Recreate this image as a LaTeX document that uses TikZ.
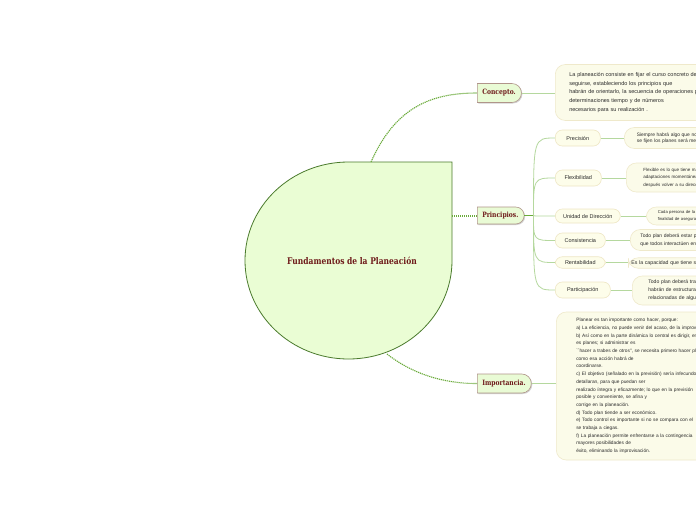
\documentclass[tikz,border=0pt]{standalone}
\usepackage{fontspec}
\usetikzlibrary{shapes.misc,shadows,calc}
\newfontfamily\condf[FakeStretch=1.0]{Liberation Sans}
\newfontfamily\slabf[FakeStretch=0.82]{DejaVu Serif}
\definecolor{mainfill}{HTML}{EAFDD4}
\definecolor{maindraw}{HTML}{4A7A2C}
\definecolor{branchfill}{HTML}{E9FBD5}
\definecolor{branchdraw}{HTML}{B0958A}
\definecolor{labelred}{HTML}{6E1A1A}
\definecolor{dotgreen}{HTML}{6AAA3A}
\definecolor{leafgreen}{HTML}{B5D89E}
\definecolor{pillfill}{HTML}{FDFDEA}
\definecolor{pilldraw}{HTML}{EEE6C4}
\definecolor{leaffill}{HTML}{FBFBE9}
\definecolor{leafdraw}{HTML}{EFE9CB}
\definecolor{textgray}{HTML}{2A2A2A}
\tikzset{
  branch/.style={rounded rectangle, rounded rectangle left arc=none,
    draw=branchdraw, fill=branchfill, line width=0.6pt, minimum height=19pt,
    inner xsep=5pt, inner ysep=0pt, anchor=west, text=labelred,
    font=\slabf\bfseries\fontsize{7.3}{8}\selectfont,
    drop shadow={shadow xshift=1pt, shadow yshift=-1pt, opacity=0.35, fill=gray}},
  pill/.style={rectangle, rounded corners=7pt, draw=pilldraw, fill=pillfill,
    line width=0.6pt, anchor=west, inner sep=0pt, text=textgray,
    font=\condf\fontsize{5.5}{7}\selectfont},
  leaf/.style={rectangle, rounded corners=10pt, draw=leafdraw, fill=leaffill,
    line width=0.6pt, anchor=west, inner ysep=1pt, text=textgray,
    text width=200pt, align=left},
  dotline/.style={draw=dotgreen, line width=1.1pt, dash pattern=on 1.2pt off 0.8pt},
  leafline/.style={draw=leafgreen, line width=0.8pt},
  hubline/.style={draw=dotgreen, line width=1.3pt},
  titlestyle/.style={text=labelred, font=\slabf\bfseries\fontsize{9.2}{10}\selectfont}
}
\begin{document}
\begin{tikzpicture}[x=1pt,y=-1pt]
\useasboundingbox (0,0) rectangle (696,520);
\clip (0,0) rectangle (696,520);
\fill[white] (0,0) rectangle (696,520);

% central shape
\filldraw[fill=mainfill, draw=maindraw, line width=0.8pt]
  (348.5,162) -- (452,162) -- (452,260.5)
  .. controls (452,314.9) and (405.66,359) .. (348.5,359)
  .. controls (291.34,359) and (245,314.9) .. (245,260.5)
  .. controls (245,206.1) and (291.34,162) .. (348.5,162) -- cycle;
\node[titlestyle] (root) at (352,261) {Fundamentos de la Planeación};
\coordinate (rtop) at (371,162);
\coordinate (rright) at (452,216);
\coordinate (rbot) at (387,354);

% branches
\node[branch] (conc) at (477,93) {Concepto.};
\node[branch, minimum height=17pt] (prin) at (477,215.5) {Principios.};
\node[branch] (imp) at (477,383.5) {Importancia.};

\draw[dotline] (rtop) .. controls (395,108) and (430,93) .. (conc.west);
\draw[dotline] (rright) -- (rright -| prin.west);
\draw[dotline] (rbot) .. controls (410,372) and (440,383.5) .. (imp.west);

% concept leaf
\node[leaf, minimum height=56pt, inner xsep=14pt,
  font=\condf\fontsize{5.5}{8.75}\selectfont] (concl) at (555,92.5)
  {La planeación consiste en fijar el curso concreto de acción\\
   seguirse, estableciendo los principios que\\
   habrán de orientarlo, la secuencia de operaciones para\\
   determinaciones tiempo y de números\\
   necesarios para su realización .};
\draw[leafline] (conc.east) -- (conc.east -| concl.west);

% principles children
\node[pill, minimum width=45pt, minimum height=16pt] (pre) at (555,138) {Precisión};
\node[pill, minimum width=46pt, minimum height=16pt] (fle) at (555,178) {Flexibilidad};
\node[pill, minimum width=65pt, minimum height=14pt] (uni) at (555,216) {Unidad de Dirección};
\node[pill, minimum width=50pt, minimum height=15pt] (con) at (555,240.5) {Consistencia};
\node[pill, minimum width=50pt, minimum height=11.5pt] (ren) at (555,262.5) {Rentabilidad};
\node[pill, minimum width=55pt, minimum height=16pt] (par) at (555,290) {Participación};

\coordinate (hub) at ($(prin.east)+(9,0)$);
\draw[hubline] (prin.east) -- (hub);
\foreach \c in {pre,fle,uni,con,ren,par}
  \draw[leafline] (hub) .. controls (hub |- \c.west) .. (\c.west);

% principles leaves
\node[leaf, minimum height=21pt, inner xsep=12.5pt,
  font=\condf\fontsize{4.9}{6.3}\selectfont] (prel) at (624,138)
  {Siempre habrá algo que no se\\ se fijen los planes será mera};
\node[leaf, minimum height=29pt, inner xsep=17pt,
  font=\condf\fontsize{4.5}{7.5}\selectfont] (flel) at (626,177.5)
  {Flexible es lo que tiene margen\\ adaptaciones momentáneas\\ después volver a su dirección};
\node[leaf, minimum height=18pt, inner xsep=11.5pt,
  font=\condf\fontsize{4.2}{7}\selectfont] (unil) at (646,216)
  {Cada persona de la organización\\ finalidad de asegurar};
\node[leaf, minimum height=21pt, inner xsep=10pt,
  font=\condf\fontsize{5.0}{8}\selectfont] (conl) at (630,240)
  {Todo plan deberá estar perfectamente\\ que todos interactúen entre};
\node[leaf, minimum height=10.5pt, inner xsep=3pt, inner ysep=0pt,
  font=\condf\fontsize{5.2}{6}\selectfont] (renl) at (628,263)
  {Es la capacidad que tiene su};
\node[leaf, minimum height=29pt, inner xsep=16pt,
  font=\condf\fontsize{5.1}{8}\selectfont] (parl) at (632,290.5)
  {Todo plan deberá tratar\\ habrán de estructurar\\ relacionadas de alguna};
\foreach \c in {pre,fle,uni,con,ren,par}
  \draw[leafline] (\c.east) -- (\c.east -| \c l.west);

% importance leaf
\node[leaf, minimum height=148pt, inner xsep=20pt,
  font=\condf\fontsize{4.8}{7.7}\selectfont] (impl) at (556,386)
  {Planear es tan importante como hacer, porque:\\
   a) La eficiencia, no puede venir del acaso, de la improvisación\\
   b) Así como en la parte dinámica lo central es dirigir, en la\\
   es planes; si administrar es\\
   ``hacer a trabes de otros'', se necesita primero hacer planes\\
   como esa acción habrá de\\
   coordinarse.\\
   c) El objetivo (señalado en la previsión) sería infecundo\\
   detallaran, para que puedan ser\\
   realizado íntegra y eficazmente; lo que en la previsión\\
   posible y conveniente, se afina y\\
   corrige en la planeación.\\
   d) Todo plan tiende a ser económico.\\
   e) Todo control es importante si no se compara con el\\
   se trabaja a ciegas.\\
   f) La planeación permite enfrentarse a la contingencia\\
   mayores posibilidades de\\
   éxito, eliminando la improvisación.};
\draw[leafline] (imp.east) -- (imp.east -| impl.west);
\end{tikzpicture}
\end{document}
